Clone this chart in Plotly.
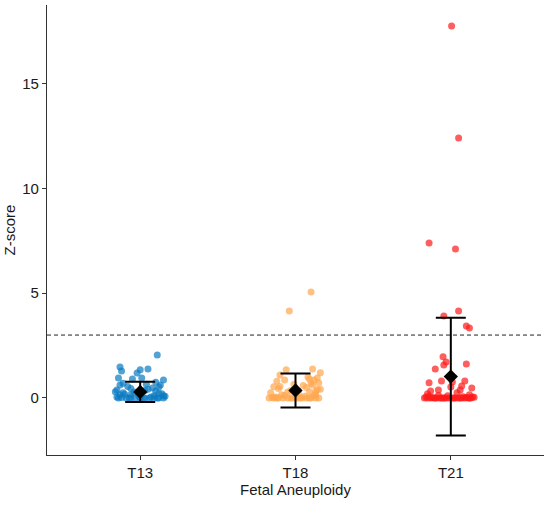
import plotly.graph_objects as go

groups = ["T13", "T18", "T21"]
colors = ["#0A7BC2", "#FFA64D", "#FF1A1A"]

# z-scores, with the horizontal jitter of each point
t13_z = [2.05, 1.48, 1.29, 1.34, 1.38, 1.19, 0.95, 0.90, 0.95, 0.86, 0.62, 0.48, 0.62, 0.38,
         0.55, 0.75, 0.42, 0.30, 0.25, 0.20, 0.35, 0.15, 0.10, 0.05, 0.02, 0.0, 0.0, 0.0, 0.0,
         0.0, 0.0, 0.0, 0.0, 0.0, 0.0, 0.08, 0.12, 0.18, 0.22, 0.28, 0.04, 0.0, 0.0, 0.0,
         0.70, 0.52, 0.45, 0.33, 0.65, 0.15, 0.10, 0.06]
t13_dx = [0.11, -0.13, -0.12, 0.0, 0.05, -0.02, -0.14, -0.05, 0.01, 0.15, 0.13, 0.08, -0.13, -0.15,
          -0.08, 0.10, 0.05, -0.16, -0.11, 0.14, 0.03, -0.06, 0.09, -0.15, -0.12, -0.09, -0.06, -0.03, 0.0,
          0.03, 0.06, 0.09, 0.12, 0.15, -0.14, 0.16, -0.01, -0.10, 0.12, -0.04, 0.07, -0.07, 0.02, 0.11,
          -0.11, 0.12, -0.06, 0.10, 0.04, -0.13, 0.15, 0.0]

t18_z = [5.05, 4.15, 1.34, 1.38, 1.20, 1.10, 1.00, 0.86, 0.86, 0.72, 0.65, 0.53, 0.60, 0.45,
         0.40, 0.35, 0.30, 0.25, 0.20, 0.15, 0.10, 0.05, 0.95, 0.80, 0.70, 0.50, 0.28, 0.18,
         0.0, 0.0, 0.0, 0.0, 0.0, 0.0, 0.0, 0.0, 0.0, 0.0, 0.0, 0.0, 0.02, 0.06, 0.12, 0.08,
         0.0, 0.0, 0.0, 0.0, 0.62, 0.42, 0.90, 0.55, 0.32]
t18_dx = [0.10, -0.04, -0.06, 0.11, 0.16, -0.10, 0.08, -0.07, 0.12, 0.15, -0.01, -0.14, 0.05, -0.11,
          0.14, -0.03, 0.09, -0.16, 0.02, -0.09, 0.12, -0.13, 0.14, -0.12, 0.10, 0.07, -0.05, 0.13,
          -0.17, -0.14, -0.11, -0.08, -0.05, -0.02, 0.01, 0.04, 0.07, 0.10, 0.13, 0.15, -0.15, 0.0,
          -0.07, 0.06, -0.12, 0.03, 0.09, -0.03, 0.11, 0.16, 0.09, -0.10, 0.13]

t21_z = [17.74, 12.40, 7.39, 7.10, 4.15, 3.91, 3.43, 3.34, 1.96, 1.72, 1.57, 1.62, 1.38, 0.81,
         0.72, 0.81, 0.57, 0.48, 0.76, 0.33, 0.38, 0.38, 0.52, 0.20, 0.15, 0.10, 0.25,
         0.0, 0.0, 0.0, 0.0, 0.0, 0.0, 0.0, 0.0, 0.0, 0.0, 0.0, 0.0, 0.0, 0.0, 0.0, 0.0,
         0.03, 0.05, 0.02, 0.06, 0.04, 0.0, 0.0, 0.0, 0.0, 0.08, 0.12, 0.02, 0.0, 0.0]
t21_dx = [0.005, 0.05, -0.14, 0.03, 0.05, -0.045, 0.10, 0.12, -0.05, -0.03, -0.045, 0.10, -0.10, -0.06,
          -0.14, 0.09, 0.07, 0.135, 0.01, -0.13, -0.08, 0.06, 0.0, -0.15, 0.12, -0.02, 0.04,
          -0.17, -0.15, -0.13, -0.11, -0.09, -0.07, -0.05, -0.03, -0.01, 0.01, 0.03, 0.05, 0.07, 0.09, 0.11, 0.13,
          0.15, -0.16, -0.12, 0.08, 0.14, -0.06, 0.02, -0.10, 0.06, -0.14, -0.08, 0.10, -0.04, 0.12]

means = [0.29, 0.36, 1.02]
sds = [0.48, 0.81, 2.81]

threshold = 3

fig = go.Figure()

for i, (z, dx) in enumerate([(t13_z, t13_dx), (t18_z, t18_dx), (t21_z, t21_dx)]):
    fig.add_trace(go.Scatter(
        x=[i + 1 + d for d in dx], y=z, mode="markers",
        marker=dict(color=colors[i], size=7, opacity=0.7, line=dict(width=0)),
        showlegend=False, hoverinfo="y"))

fig.add_trace(go.Scatter(
    x=[1, 2, 3], y=means, mode="markers",
    marker=dict(symbol="diamond", color="black", size=11),
    error_y=dict(type="data", array=sds, visible=True, color="black", thickness=2, width=15),
    showlegend=False))

fig.add_hline(y=threshold, line=dict(color="#222222", width=1, dash="4px,3px"))

fig.update_layout(
    width=550, height=505,
    margin=dict(l=47, r=6, t=5, b=50),
    plot_bgcolor="white", paper_bgcolor="white",
    font=dict(family="Liberation Sans, Arial, sans-serif", size=15, color="#1a1a1a"),
)
fig.update_xaxes(
    range=[0.4, 3.6], tickvals=[1, 2, 3], ticktext=groups, automargin=False,
    showline=True, linecolor="#333333", linewidth=1.3, mirror=False,
    ticks="outside", ticklen=4, tickcolor="#333333", tickfont=dict(size=15),
    showgrid=False, zeroline=False,
    title=dict(text="Fetal Aneuploidy", standoff=2, font=dict(size=15)))
fig.update_yaxes(
    range=[-2.72, 18.74], tickvals=[0, 5, 10, 15], automargin=False,
    showline=True, linecolor="#333333", linewidth=1.3,
    ticks="outside", ticklen=4, tickcolor="#333333", tickfont=dict(size=15),
    showgrid=False, zeroline=False,
    title=dict(text="Z-score", standoff=2, font=dict(size=15)))

# the page body has an 8px default margin; drop it so the figure sits at the corner
fig.write_html("out.html", config={"displayModeBar": False},
               post_script="document.body.style.margin='0';")
